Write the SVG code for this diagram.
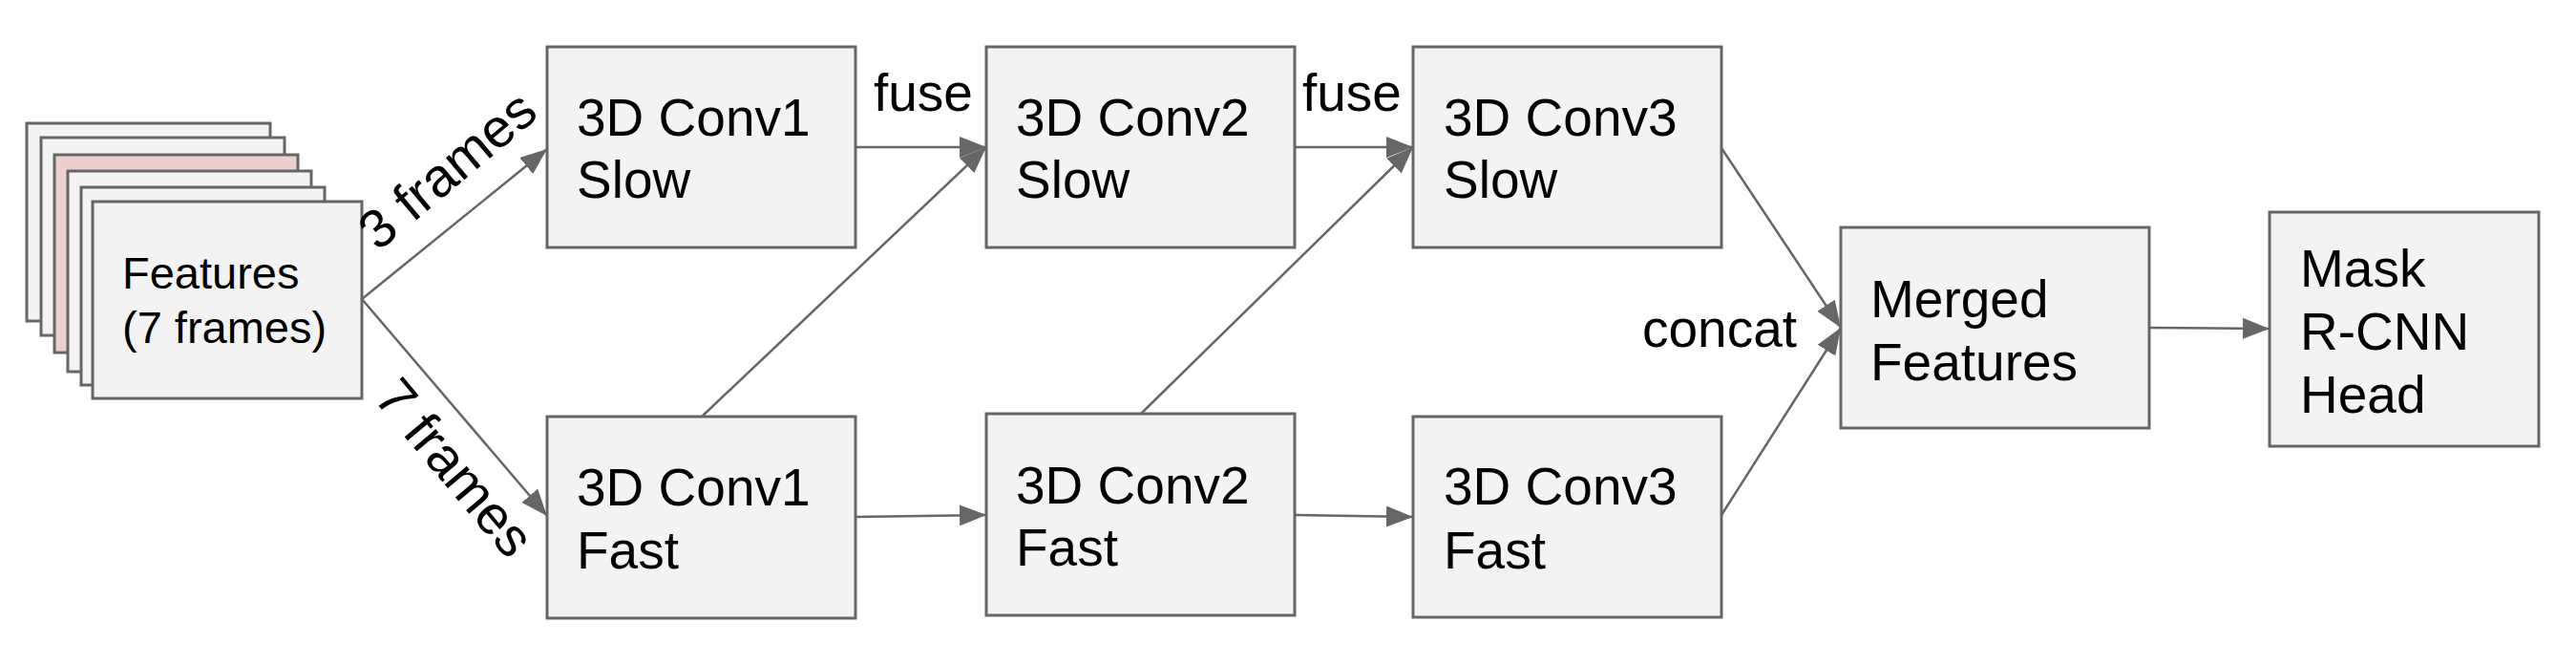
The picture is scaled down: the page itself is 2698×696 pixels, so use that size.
<svg xmlns="http://www.w3.org/2000/svg" width="2698" height="696" viewBox="0 0 2698 696">
<style>
.box{fill:#f3f3f3;stroke:#666666;stroke-width:3}
.pink{fill:#ecd0d0;stroke:#666666;stroke-width:3}
.t{font-family:"Liberation Sans",Arial,sans-serif;font-size:55px;fill:#000}
.tr{font-family:"Liberation Sans",Arial,sans-serif;font-size:57px;fill:#000}
.ts{font-family:"Liberation Sans",Arial,sans-serif;font-size:47px;fill:#000}
.c{stroke:#666666;stroke-width:2.5;fill:none;marker-end:url(#ah)}
</style>
<defs>
<marker id="ah" markerUnits="userSpaceOnUse" markerWidth="28" markerHeight="22" refX="28" refY="11" orient="auto" viewBox="0 0 28 22">
<path d="M0,0 L28,11 L0,22 z" fill="#666666"/>
</marker>
</defs>
<rect width="2698" height="696" fill="#ffffff"/>
<g id="features">
<rect class="box" x="28" y="129" width="255" height="207"/>
<rect class="box" x="43" y="144" width="255" height="207"/>
<rect class="pink" x="57" y="162" width="255" height="207"/>
<rect class="box" x="71" y="179" width="255" height="210"/>
<rect class="box" x="85" y="196" width="255" height="207"/>
<rect class="box" x="97" y="211" width="282" height="206"/>
<text class="ts" x="128" y="302">Features</text>
<text class="ts" x="128" y="359">(7 frames)</text>
</g>
<g id="conv1slow">
<rect class="box" x="573" y="49" width="323" height="210"/>
<text class="t" x="604" y="142">3D Conv1</text>
<text class="t" x="604" y="207">Slow</text>
</g>
<g id="conv1fast">
<rect class="box" x="573" y="436" width="323" height="211"/>
<text class="t" x="604" y="529">3D Conv1</text>
<text class="t" x="604" y="595">Fast</text>
</g>
<g id="conv2slow">
<rect class="box" x="1033" y="49" width="323" height="210"/>
<text class="t" x="1064" y="142">3D Conv2</text>
<text class="t" x="1064" y="207">Slow</text>
</g>
<g id="conv2fast">
<rect class="box" x="1033" y="433" width="323" height="211"/>
<text class="t" x="1064" y="527">3D Conv2</text>
<text class="t" x="1064" y="592">Fast</text>
</g>
<g id="conv3slow">
<rect class="box" x="1480" y="49" width="323" height="210"/>
<text class="t" x="1512" y="142">3D Conv3</text>
<text class="t" x="1512" y="207">Slow</text>
</g>
<g id="conv3fast">
<rect class="box" x="1480" y="436" width="323" height="210"/>
<text class="t" x="1512" y="528">3D Conv3</text>
<text class="t" x="1512" y="595">Fast</text>
</g>
<g id="merged">
<rect class="box" x="1928" y="238" width="323" height="210"/>
<text class="t" x="1959" y="332">Merged</text>
<text class="t" x="1959" y="398">Features</text>
</g>
<g id="mask">
<rect class="box" x="2377" y="222" width="282" height="245"/>
<text class="t" x="2409" y="300">Mask</text>
<text class="t" x="2409" y="366">R-CNN</text>
<text class="t" x="2409" y="432">Head</text>
</g>
<g id="connectors">
<line class="c" x1="379" y1="313" x2="573" y2="156"/>
<line class="c" x1="379" y1="313" x2="573" y2="540"/>
<line class="c" x1="896" y1="154" x2="1033" y2="154"/>
<line class="c" x1="735" y1="436" x2="1033" y2="154"/>
<line class="c" x1="896" y1="541" x2="1033" y2="539"/>
<line class="c" x1="1356" y1="154" x2="1480" y2="154"/>
<line class="c" x1="1195" y1="433" x2="1480" y2="154"/>
<line class="c" x1="1356" y1="539" x2="1480" y2="541"/>
<line class="c" x1="1803" y1="155" x2="1928" y2="343"/>
<line class="c" x1="1803" y1="539" x2="1928" y2="343"/>
<line class="c" x1="2251" y1="343" x2="2377" y2="344"/>
<text class="tr" transform="translate(396,264) rotate(-40)">3 frames</text>
<text class="tr" transform="translate(390,417) rotate(50)">7 frames</text>
<text class="t" x="915" y="116">fuse</text>
<text class="t" x="1364" y="116">fuse</text>
<text class="t" x="1720" y="363">concat</text>
</g>
</svg>
